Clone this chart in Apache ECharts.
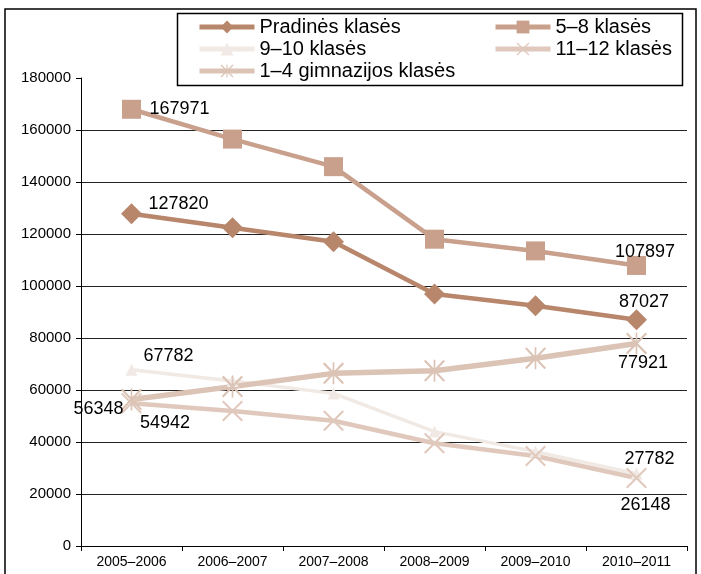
<!DOCTYPE html>
<html>
<head>
<meta charset="utf-8">
<script src="https://cdn.jsdelivr.net/npm/echarts@6/dist/echarts.min.js"></script>
<style>
    html, body { margin: 0; padding: 0; background: #fff; }
    #chart { width: 701px; height: 574px; }
</style>
</head>
<body>
<div id="chart"></div>
<script>
    var categories = ['2005–2006', '2006–2007', '2007–2008', '2008–2009', '2009–2010', '2010–2011'];
    var pradines = [127820, 122400, 117000, 96900, 92400, 87027];
    var klases58 = [167971, 156500, 145900, 118000, 113500, 107897];
    var klases910 = [67782, 63500, 58700, 44000, 36300, 27782];
    var klases1112 = [54942, 51900, 48200, 39500, 34600, 26148];
    var gimnazijos = [56348, 61300, 66400, 67400, 72200, 77921];
    var yTicks = [0, 20000, 40000, 60000, 80000, 100000, 120000, 140000, 160000, 180000];

    var font = "'Liberation Sans', Arial, sans-serif";
    var xMark = 'path://M0,0.7L0.7,0L10,9.3L9.3,10ZM9.3,0L10,0.7L0.7,10L0,9.3Z';
    var starMark = 'path://M0,0.7L0.7,0L10,9.3L9.3,10ZM9.3,0L10,0.7L0.7,10L0,9.3ZM4.6,0L5.4,0L5.4,10L4.6,10Z';

    // label offsets for first / last point of each series
    function pointLabels(values, first, last) {
        return values.map(function (v, i) {
            var off = i === 0 ? first : (i === values.length - 1 ? last : null);
            if (!off) return v;
            return {
                value: v,
                label: {
                    show: true,
                    position: 'inside',
                    offset: off,
                    color: '#000',
                    fontSize: 18,
                    fontFamily: font,
                    formatter: '{c}'
                }
            };
        });
    }

    function lineSeries(name, values, color, symbol, size, width, first, last) {
        return {
            name: name,
            type: 'line',
            symbol: symbol,
            symbolSize: size,
            itemStyle: { color: color },
            lineStyle: { color: color, width: width },
            data: pointLabels(values, first, last)
        };
    }

    function legendRow(name, left, top) {
        return {
            data: [name],
            left: left,
            top: top,
            padding: 0,
            itemWidth: 55,
            itemHeight: 16,
            selectedMode: false,
            lineStyle: { width: 5 },
            textStyle: { color: '#000', fontSize: 20, lineHeight: 22, fontFamily: font }
        };
    }

    var gridColors = [];
    for (var i = 0; i < yTicks.length; i++) {
        gridColors.push(i === yTicks.length - 1 ? 'rgba(0,0,0,0)' : '#222');
    }

    var chart = echarts.init(document.getElementById('chart'));
    chart.setOption({
        animation: false,
        backgroundColor: '#fff',
        textStyle: { fontFamily: font },
        graphic: [{
            type: 'rect',
            shape: { x: 5, y: 9, width: 691, height: 620 },
            style: { fill: 'none', stroke: '#000', lineWidth: 1.5 },
            z: -1
        }, {
            type: 'rect',
            shape: { x: 177.5, y: 13.5, width: 505, height: 72 },
            style: { fill: '#fff', stroke: '#000', lineWidth: 1.5 },
            z: -1
        }],
        legend: [
            legendRow('Pradinės klasės', 197, 16),
            legendRow('9–10 klasės', 197, 38),
            legendRow('1–4 gimnazijos klasės', 197, 60),
            legendRow('5–8 klasės', 493, 16),
            legendRow('11–12 klasės', 493, 38)
        ],
        grid: {
            left: 81,
            right: 14,
            top: 78,
            bottom: 28,
            containLabel: false
        },
        xAxis: {
            type: 'category',
            data: categories,
            boundaryGap: true,
            axisLine: { lineStyle: { color: '#000', width: 1 } },
            axisTick: { show: true, length: 5, lineStyle: { color: '#000' } },
            axisLabel: { color: '#000', fontSize: 14, margin: 9, fontFamily: font, interval: 0 },
            splitLine: { show: false }
        },
        yAxis: {
            type: 'value',
            min: 0,
            max: 180000,
            interval: 20000,
            axisLine: { show: true, lineStyle: { color: '#000', width: 1 } },
            axisTick: { show: true, length: 5, lineStyle: { color: '#000' } },
            axisLabel: {
                color: '#000',
                fontSize: 15,
                margin: 10,
                fontFamily: font,
                formatter: function (v) { return String(v); }
            },
            splitLine: { show: true, lineStyle: { color: gridColors, width: 1 } }
        },
        series: [
            lineSeries('Pradinės klasės', pradines, '#b8866b', 'diamond', 21, 4.5, [47, -9.5], [7.5, -18]),
            lineSeries('5–8 klasės', klases58, '#c9a08c', 'rect', 19, 4.5, [48, 0], [8.5, -13.5]),
            lineSeries('9–10 klasės', klases910, '#f0e9e4', 'triangle', 12, 3.5, [37, -14], [13, -15]),
            lineSeries('11–12 klasės', klases1112, '#e0c9bc', xMark, 21, 4.5, [33.5, 20], [9, 27]),
            lineSeries('1–4 gimnazijos klasės', gimnazijos, '#dbc3b5', starMark, [21, 22], 5.5, [-33, 10], [6.5, 20])
        ]
    });
</script>
</body>
</html>
